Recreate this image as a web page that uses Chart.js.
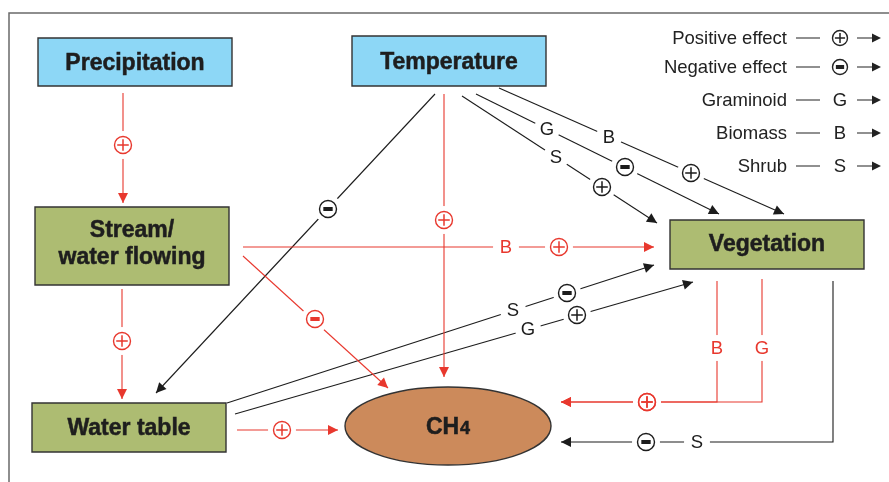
<!DOCTYPE html>
<html><head><meta charset="utf-8">
<script src="https://cdn.jsdelivr.net/npm/chart.js@4"></script>
<style>html,body{margin:0;padding:0;background:#fff}#wrap{width:889px;height:482px;position:relative}</style>
</head><body><div id="wrap"><canvas id="c"></canvas></div>
<script>
// ---------- DATA ----------
const nodeNames = ['Precipitation', 'Temperature', 'Stream/\nwater flowing', 'Water table', 'Vegetation', 'CH4'];
const nodeKinds = ['climate', 'climate', 'hydro', 'hydro', 'veg', 'gas'];
const edgeFrom   = [0, 2, 3, 2, 2, 1, 1, 1, 1, 1, 3, 3, 4, 4, 4];
const edgeTo     = [2, 3, 5, 4, 5, 5, 3, 4, 4, 4, 4, 4, 5, 5, 5];
const edgeEffect = ['+', '+', '+', '+', '-', '+', '-', '+', '-', '+', '-', '+', '+', '+', '-'];
const edgeGroup  = ['', '', '', 'B', '', '', '', 'S', 'G', 'B', 'S', 'G', 'B', 'G', 'S'];
const legendLabels  = ['Positive effect', 'Negative effect', 'Graminoid', 'Biomass', 'Shrub'];
const legendSymbols = ['+', '-', 'G', 'B', 'S'];

// ---------- LAYOUT (diagram units, mapped through the chart scales) ----------
const layout = {
  nodeBox: [[38,38,232,86],[352,36,546,86],[35,207,229,285],[32,403,226,452],[670,220,864,269],[345,387,551,465]],
  nodeTextY: [[63],[61.5],[230,257],[428],[244],[426]],
  edgePath: [
    [[123,93],[123,203]],
    [[122,289],[122,399]],
    [[237,430],[338,430]],
    [[243,247],[654,247]],
    [[243,256],[388,388]],
    [[444,94],[444,377]],
    [[435,94],[156,393]],
    [[462,96],[657,223]],
    [[476,94],[719,214]],
    [[499,88],[784,214]],
    [[227,403],[654,265]],
    [[235,414],[693,282]],
    [[717,281],[717,402],[561,402]],
    [[762,279],[762,402],[561,402]],
    [[833,281],[833,442],[561,442]]
  ],
  groupPos: [null,null,null,[506,247],null,null,null,[556,157],[547,129],[609,137],[513,310],[528,329],[717,348],[762,348],[697,442]],
  effectPos: [[123,145],[122,341],[282,430],[559,247],[315,319],[444,220],[328,209],[602,187],[625,167],[691,173],[567,293],[577,315],[647,402],[647,402],[646,442]],
  legendTextRight: 787, legendLine: [796,820], legendSym: 840, legendArrow: [857,881],
  legendY: [38, 67, 100, 133, 166]
};
const style = {
  red: '#e8382e', black: '#1c1c1c',
  edgeColor: ['red','red','red','red','red','red','black','black','black','black','black','black','red','red','black'],
  fill: {climate:'#8dd7f6', hydro:'#adbc72', veg:'#adbc72', gas:'#cc8a5b'},
  border: '#333333', frame: '#6a6a6a'
};

const datasets = layout.edgePath.map((p, i) => ({
  data: p.map(q => ({x: q[0], y: q[1]})),
  showLine: true, pointRadius: 0, borderWidth: 1.1, tension: 0,
  borderColor: style[style.edgeColor[i]], fill: false
}));

function drawSymbol(ctx, s, x, y, color, r) {
  ctx.save();
  ctx.strokeStyle = color; ctx.fillStyle = color;
  if (s === '+' || s === '-') {
    ctx.lineWidth = 1.4;
    ctx.beginPath(); ctx.arc(x, y, r, 0, Math.PI * 2); ctx.stroke();
    if (s === '+') {
      const k = r * 0.68;
      ctx.lineWidth = 1.5;
      ctx.beginPath();
      ctx.moveTo(x - k, y); ctx.lineTo(x + k, y);
      ctx.moveTo(x, y - k); ctx.lineTo(x, y + k);
      ctx.stroke();
    } else {
      ctx.fillRect(x - r * 0.55, y - 2, r * 1.1, 4);
    }
  } else {
    ctx.font = '18.5px "Liberation Sans", Arial, sans-serif';
    ctx.textAlign = 'center'; ctx.textBaseline = 'middle';
    ctx.fillText(s, x, y + 1);
  }
  ctx.restore();
}
function arrowHead(ctx, x0, y0, x1, y1, color, len, hw) {
  const a = Math.atan2(y1 - y0, x1 - x0);
  ctx.save();
  ctx.fillStyle = color;
  ctx.beginPath();
  ctx.moveTo(x1, y1);
  ctx.lineTo(x1 - len * Math.cos(a) + hw * Math.sin(a), y1 - len * Math.sin(a) - hw * Math.cos(a));
  ctx.lineTo(x1 - len * Math.cos(a) - hw * Math.sin(a), y1 - len * Math.sin(a) + hw * Math.cos(a));
  ctx.closePath(); ctx.fill();
  ctx.restore();
}

const diagram = {
  id: 'diagram',
  beforeDatasetsDraw(chart) {
    const ctx = chart.ctx, X = v => chart.scales.x.getPixelForValue(v), Y = v => chart.scales.y.getPixelForValue(v);
    ctx.save();
    ctx.strokeStyle = style.frame; ctx.lineWidth = 1.5;
    ctx.beginPath();
    ctx.moveTo(X(9), Y(482)); ctx.lineTo(X(9), Y(13)); ctx.lineTo(X(889), Y(13));
    ctx.stroke();
    ctx.restore();
  },
  afterDatasetsDraw(chart) {
    const ctx = chart.ctx, X = v => chart.scales.x.getPixelForValue(v), Y = v => chart.scales.y.getPixelForValue(v);
    // gaps behind labels
    ctx.save(); ctx.fillStyle = '#ffffff';
    layout.edgePath.forEach((p, i) => {
      const e = layout.effectPos[i], g = layout.groupPos[i];
      ctx.beginPath(); ctx.arc(X(e[0]), Y(e[1]), 14, 0, Math.PI * 2); ctx.fill();
      if (g) { ctx.beginPath(); ctx.arc(X(g[0]), Y(g[1]), 13, 0, Math.PI * 2); ctx.fill(); }
    });
    ctx.restore();
    // arrowheads and labels
    layout.edgePath.forEach((p, i) => {
      const col = style[style.edgeColor[i]];
      const a = p[p.length - 2], b = p[p.length - 1];
      arrowHead(ctx, X(a[0]), Y(a[1]), X(b[0]), Y(b[1]), col, 10, 5);
      const e = layout.effectPos[i], g = layout.groupPos[i];
      drawSymbol(ctx, edgeEffect[i], X(e[0]), Y(e[1]), col, 8.5);
      if (g) drawSymbol(ctx, edgeGroup[i], X(g[0]), Y(g[1]), col, 8.5);
    });
    // nodes
    nodeNames.forEach((name, i) => {
      const bx = layout.nodeBox[i];
      const x0 = X(bx[0]), y0 = Y(bx[1]), x1 = X(bx[2]), y1 = Y(bx[3]);
      ctx.save();
      ctx.fillStyle = style.fill[nodeKinds[i]];
      ctx.strokeStyle = style.border; ctx.lineWidth = 1.4;
      ctx.beginPath();
      if (nodeKinds[i] === 'gas') {
        ctx.ellipse((x0 + x1) / 2, (y0 + y1) / 2, (x1 - x0) / 2, (y1 - y0) / 2, 0, 0, Math.PI * 2);
      } else {
        ctx.rect(x0, y0, x1 - x0, y1 - y0);
      }
      ctx.fill(); ctx.stroke();
      ctx.fillStyle = '#1e1e1e';
      ctx.strokeStyle = '#1e1e1e'; ctx.lineWidth = 0.5;
      ctx.textBaseline = 'middle';
      const cx = (x0 + x1) / 2;
      if (nodeKinds[i] === 'gas') {
        const m = name.match(/^([A-Z]+)(\d+)$/);
        ctx.font = 'bold 23px "Liberation Sans", Arial, sans-serif';
        const w1 = ctx.measureText(m[1]).width;
        ctx.font = 'bold 18px "Liberation Sans", Arial, sans-serif';
        const w2 = ctx.measureText(m[2]).width;
        const start = cx - (w1 + w2 + 1) / 2;
        const base = Y(layout.nodeTextY[i][0]) + 8;
        ctx.textBaseline = 'alphabetic'; ctx.textAlign = 'left';
        ctx.font = 'bold 23px "Liberation Sans", Arial, sans-serif';
        ctx.fillText(m[1], start, base); ctx.strokeText(m[1], start, base);
        ctx.font = 'bold 18px "Liberation Sans", Arial, sans-serif';
        ctx.fillText(m[2], start + w1 + 1, base); ctx.strokeText(m[2], start + w1 + 1, base);
      } else {
        ctx.font = 'bold 23px "Liberation Sans", Arial, sans-serif';
        ctx.textAlign = 'center';
        name.split('\n').forEach((ln, k) => {
          ctx.fillText(ln, cx, Y(layout.nodeTextY[i][k]) + 1);
          ctx.strokeText(ln, cx, Y(layout.nodeTextY[i][k]) + 1);
        });
      }
      ctx.restore();
    });
    // legend
    legendLabels.forEach((lab, i) => {
      const y = Y(layout.legendY[i]);
      ctx.save();
      ctx.fillStyle = '#222222';
      ctx.font = '18.5px "Liberation Sans", Arial, sans-serif';
      ctx.textAlign = 'right'; ctx.textBaseline = 'middle';
      ctx.fillText(lab, X(layout.legendTextRight), y + 1);
      ctx.strokeStyle = '#222222'; ctx.lineWidth = 1.2;
      ctx.beginPath();
      ctx.moveTo(X(layout.legendLine[0]), y); ctx.lineTo(X(layout.legendLine[1]), y);
      ctx.moveTo(X(layout.legendArrow[0]), y); ctx.lineTo(X(layout.legendArrow[1]) - 4, y);
      ctx.stroke();
      ctx.restore();
      arrowHead(ctx, X(layout.legendArrow[0]), y, X(layout.legendArrow[1]), y, '#222222', 9, 4.5);
      drawSymbol(ctx, legendSymbols[i], X(layout.legendSym), y, '#222222', 7.5);
    });
  }
};

new Chart(document.getElementById('c'), {
  type: 'scatter',
  data: { datasets },
  options: {
    responsive: true, maintainAspectRatio: false, animation: false,
    layout: { padding: 0 },
    plugins: { legend: { display: false }, tooltip: { enabled: false } },
    scales: {
      x: { type: 'linear', min: 0, max: 889, display: false },
      y: { type: 'linear', min: 0, max: 482, reverse: true, display: false }
    },
    events: []
  },
  plugins: [diagram]
});
</script></body></html>
